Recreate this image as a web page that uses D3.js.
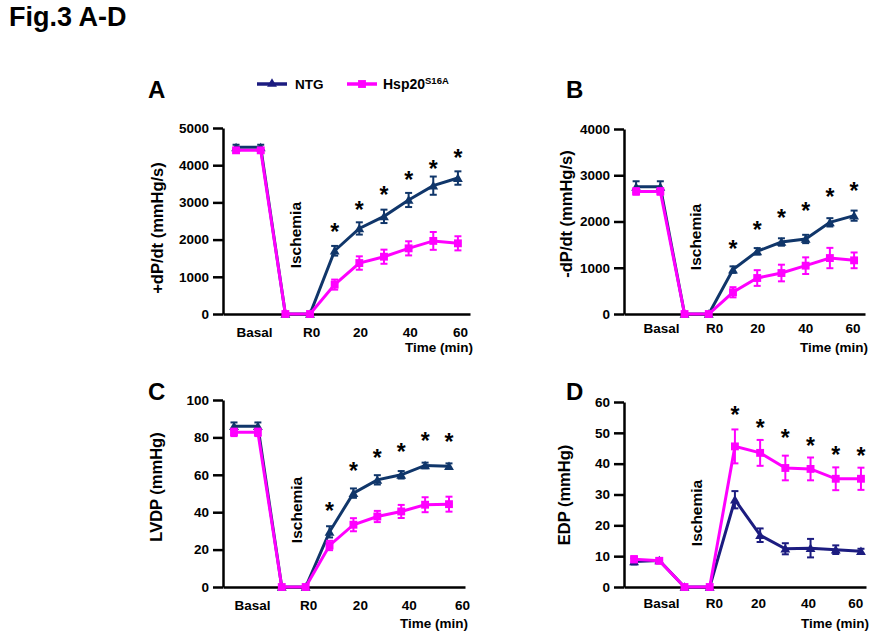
<!DOCTYPE html>
<html>
<head>
<meta charset="utf-8">
<script src="https://cdn.jsdelivr.net/npm/d3@7"></script>
<style>
  html, body { margin: 0; padding: 0; background: #fff; }
  svg text { font-family: "Liberation Sans", Arial, Helvetica, sans-serif; font-weight: bold; }
</style>
</head>
<body>
<svg id="chart" width="882" height="636"></svg>
<script>
// ---------------- data ----------------
const categories = ["Basal", "Basal", "Ischemia", "R0", "10", "20", "30", "40", "50", "60"];
const xTickLabels = ["Basal", "R0", "20", "40", "60"];
const seriesNames = ["NTG", "Hsp20", "S16A"];

// Panel A: +dP/dt (mmHg/s)
const A_ntg     = [4480, 4480, 0, 0, 1700, 2300, 2625, 3065, 3450, 3655];
const A_ntgErr  = [70, 70, 0, 0, 130, 165, 180, 190, 245, 180];
const A_hsp     = [4400, 4400, 0, 0, 790, 1370, 1540, 1765, 1965, 1900];
const A_hspErr  = [60, 60, 0, 0, 135, 180, 190, 190, 240, 190];
const A_stars   = [2340, 2930, 3333, 3737, 4032, 4328];
const A_yTicks  = [0, 1000, 2000, 3000, 4000, 5000];

// Panel B: -dP/dt (mmHg/s)
const B_ntg     = [2750, 2750, 0, 0, 960, 1355, 1557, 1622, 1982, 2126];
const B_ntgErr  = [120, 120, 0, 0, 70, 70, 80, 90, 90, 110];
const B_hsp     = [2650, 2650, 0, 0, 470, 778, 886, 1045, 1210, 1160];
const B_hspErr  = [70, 70, 0, 0, 110, 170, 180, 180, 220, 170];
const B_stars   = [1513, 1932, 2184, 2342, 2638, 2760];
const B_yTicks  = [0, 1000, 2000, 3000, 4000];

// Panel C: LVDP (mmHg)
const C_ntg     = [86, 86, 0, 0, 29.5, 50.2, 57.3, 60, 65, 64.6];
const C_ntgErr  = [2, 2, 0, 0, 3, 2.5, 2.5, 2, 1.5, 1.5];
const C_hsp     = [82.7, 82.7, 0, 0, 22.2, 33.3, 37.7, 40.4, 44, 44.3];
const C_hspErr  = [2, 2, 0, 0, 2.5, 3.5, 3, 3.5, 4, 4];
const C_stars   = [43.4, 64.9, 71.5, 75.1, 81, 80.4];
const C_yTicks  = [0, 20, 40, 60, 80, 100];

// Panel D: EDP (mmHg)
const D_ntg     = [8.3, 8.6, 0, 0, 28.3, 16.8, 12.4, 12.6, 12.1, 11.6];
const D_ntgErr  = [1, 0.8, 0, 0, 2.8, 2.2, 1.8, 3, 1.4, 0.8];
const D_hsp     = [9.0, 8.5, 0, 0, 45.6, 43.5, 38.6, 38.3, 35.1, 35.1];
const D_hspErr  = [1, 0.8, 0, 0, 5.5, 4.2, 4, 3.7, 3.7, 3.6];
const D_stars   = [57.5, 53.2, 49.9, 47.4, 44.5, 44.2];
const D_yTicks  = [0, 10, 20, 30, 40, 50, 60];

// ---------------- styles / layout ----------------
const NTG_COLOR = "#10366a";
const NTG_COLOR_ALT = "#1c1c80";
const HSP_COLOR = "#ff00ff";

const panels = [
  { letter: "A", letterX: 148, letterY: 98, ylabel: "+dP/dt (mmHg/s)", ylabelX: 163, ylabelY: 228,
    ntg: A_ntg, ntgErr: A_ntgErr, hsp: A_hsp, hspErr: A_hspErr, stars: A_stars, ntgColor: NTG_COLOR,
    yTicks: A_yTicks, yMax: 5000, yRange: [314, 128], xRange: [223, 470], xDomain: [-0.53, 9.49],
    tickPos: [0.73, 3.04, 5.03, 7.05, 9.08], tickY: 337, timeY: 352, isch: [2.43, 2120] },
  { letter: "B", letterX: 566, letterY: 98, ylabel: "-dP/dt (mmHg/s)", ylabelX: 572, ylabelY: 214,
    ntg: B_ntg, ntgErr: B_ntgErr, hsp: B_hsp, hspErr: B_hspErr, stars: B_stars, ntgColor: NTG_COLOR,
    yTicks: B_yTicks, yMax: 4000, yRange: [314, 129], xRange: [624, 865], xDomain: [-0.5, 9.45],
    tickPos: [1.03, 3.22, 5.0, 6.98, 8.93], tickY: 333, timeY: 352, isch: [2.44, 1665] },
  { letter: "C", letterX: 148, letterY: 400, ylabel: "LVDP (mmHg)", ylabelX: 162, ylabelY: 487,
    ntg: C_ntg, ntgErr: C_ntgErr, hsp: C_hsp, hspErr: C_hspErr, stars: C_stars, ntgColor: NTG_COLOR,
    yTicks: C_yTicks, yMax: 100, yRange: [587, 400], xRange: [223, 465], xDomain: [-0.46, 9.67],
    tickPos: [0.75, 3.1, 5.27, 7.32, 9.54], tickY: 610, timeY: 628, isch: [2.6, 41.2] },
  { letter: "D", letterX: 566, letterY: 400, ylabel: "EDP (mmHg)", ylabelX: 570, ylabelY: 495,
    ntg: D_ntg, ntgErr: D_ntgErr, hsp: D_hsp, hspErr: D_hspErr, stars: D_stars, ntgColor: NTG_COLOR_ALT,
    yTicks: D_yTicks, yMax: 60, yRange: [587, 402], xRange: [624, 866], xDomain: [-0.4, 9.2],
    tickPos: [1.07, 3.17, 4.92, 6.9, 8.77], tickY: 608, timeY: 628, isch: [2.46, 24] }
];

const svg = d3.select("#chart");

// Title
svg.append("text").attr("x", 9).attr("y", 26)
  .attr("font-size", 27).attr("fill", "#000").text("Fig.3 A-D");

const triangle = d3.symbol().type(d3.symbolTriangle).size(42);
const square = d3.symbol().type(d3.symbolSquare).size(62);

panels.forEach(p => {
  const g = svg.append("g");
  const x = d3.scaleLinear().domain(p.xDomain).range(p.xRange);
  const y = d3.scaleLinear().domain([0, p.yMax]).range(p.yRange);

  // panel letter
  g.append("text").attr("x", p.letterX).attr("y", p.letterY)
    .attr("font-size", 24).attr("fill", "#000").text(p.letter);

  // y axis
  const yAxis = d3.axisLeft(y).tickValues(p.yTicks).tickFormat(d3.format("d"))
    .tickSize(10).tickSizeOuter(0).tickPadding(4);
  const ya = g.append("g").attr("transform", `translate(${p.xRange[0]},0)`).call(yAxis);
  ya.select(".domain").attr("stroke", "#000").attr("stroke-width", 2.5);
  ya.selectAll(".tick line").attr("stroke", "#000").attr("stroke-width", 2.5);
  ya.selectAll(".tick text").attr("font-size", 13.5).attr("fill", "#000")
    .style("font-family", "'Liberation Sans', Arial, sans-serif").style("font-weight", "bold");

  // x axis
  const xAxis = d3.axisBottom(x).tickValues(p.tickPos)
    .tickFormat((d, i) => xTickLabels[i]).tickSize(0).tickSizeOuter(0).tickPadding(0);
  const xa = g.append("g").attr("transform", `translate(0,${y(0)})`).call(xAxis);
  xa.select(".domain").attr("stroke", "#000").attr("stroke-width", 2.5);
  xa.selectAll(".tick text").attr("font-size", 13.5).attr("fill", "#000")
    .attr("dy", null).attr("y", p.tickY - y(0))
    .style("font-family", "'Liberation Sans', Arial, sans-serif").style("font-weight", "bold");

  // Time (min)
  g.append("text").attr("x", p.xRange[1] + 3).attr("y", p.timeY)
    .attr("text-anchor", "end").attr("font-size", 13.5).attr("fill", "#000").text("Time (min)");

  // y label
  g.append("text")
    .attr("transform", `translate(${p.ylabelX},${p.ylabelY}) rotate(-90)`)
    .attr("text-anchor", "middle").attr("font-size", 16.5).attr("fill", "#000").text(p.ylabel);

  // Ischemia label
  g.append("text")
    .attr("transform", `translate(${x(p.isch[0]) + 5.5},${y(p.isch[1])}) rotate(-90)`)
    .attr("text-anchor", "middle").attr("font-size", 15.5).attr("fill", "#000").text("Ischemia");

  const line = d3.line().x((d, i) => x(i)).y(d => y(d));

  const drawSeries = (vals, errs, color, sym) => {
    g.append("path").datum(vals)
      .attr("d", line).attr("fill", "none").attr("stroke", color).attr("stroke-width", 3);
    const eb = g.append("g");
    vals.forEach((v, i) => {
      const e = errs[i];
      if (e <= 0) return;
      const cx = x(i), y1 = y(v + e), y2 = y(v - e);
      eb.append("line").attr("x1", cx).attr("x2", cx).attr("y1", y1).attr("y2", y2)
        .attr("stroke", color).attr("stroke-width", 2);
      [y1, y2].forEach(yy => eb.append("line")
        .attr("x1", cx - 3.5).attr("x2", cx + 3.5).attr("y1", yy).attr("y2", yy)
        .attr("stroke", color).attr("stroke-width", 2));
    });
    g.append("g").selectAll("path").data(vals).join("path")
      .attr("d", sym)
      .attr("transform", (d, i) => `translate(${x(i)},${y(d) + (sym === triangle ? 1 : 0)})`)
      .attr("fill", color);
  };

  drawSeries(p.ntg, p.ntgErr, p.ntgColor, triangle);
  drawSeries(p.hsp, p.hspErr, HSP_COLOR, square);

  // significance stars
  g.append("g").selectAll("text").data(p.stars).join("text")
    .attr("x", (d, i) => x(i + 4))
    .attr("y", d => y(d) + 13)
    .attr("text-anchor", "middle").attr("font-size", 23).attr("fill", "#000")
    .text("*");
});

// Legend
const leg = svg.append("g");
leg.append("line").attr("x1", 257).attr("x2", 287).attr("y1", 84).attr("y2", 84)
  .attr("stroke", NTG_COLOR_ALT).attr("stroke-width", 3.5);
leg.append("path").attr("d", triangle).attr("transform", "translate(272,84)").attr("fill", NTG_COLOR_ALT);
leg.append("text").attr("x", 295).attr("y", 89).attr("font-size", 13.5).attr("fill", "#000").text(seriesNames[0]);
leg.append("line").attr("x1", 347).attr("x2", 377).attr("y1", 84).attr("y2", 84)
  .attr("stroke", HSP_COLOR).attr("stroke-width", 3.5);
leg.append("path").attr("d", square).attr("transform", "translate(362,84)").attr("fill", HSP_COLOR);
const lt = leg.append("text").attr("x", 383).attr("y", 89).attr("font-size", 14).attr("fill", "#000");
lt.append("tspan").text(seriesNames[1]);
lt.append("tspan").attr("font-size", 9.5).attr("dy", -5).text(seriesNames[2]);
</script>
</body>
</html>
